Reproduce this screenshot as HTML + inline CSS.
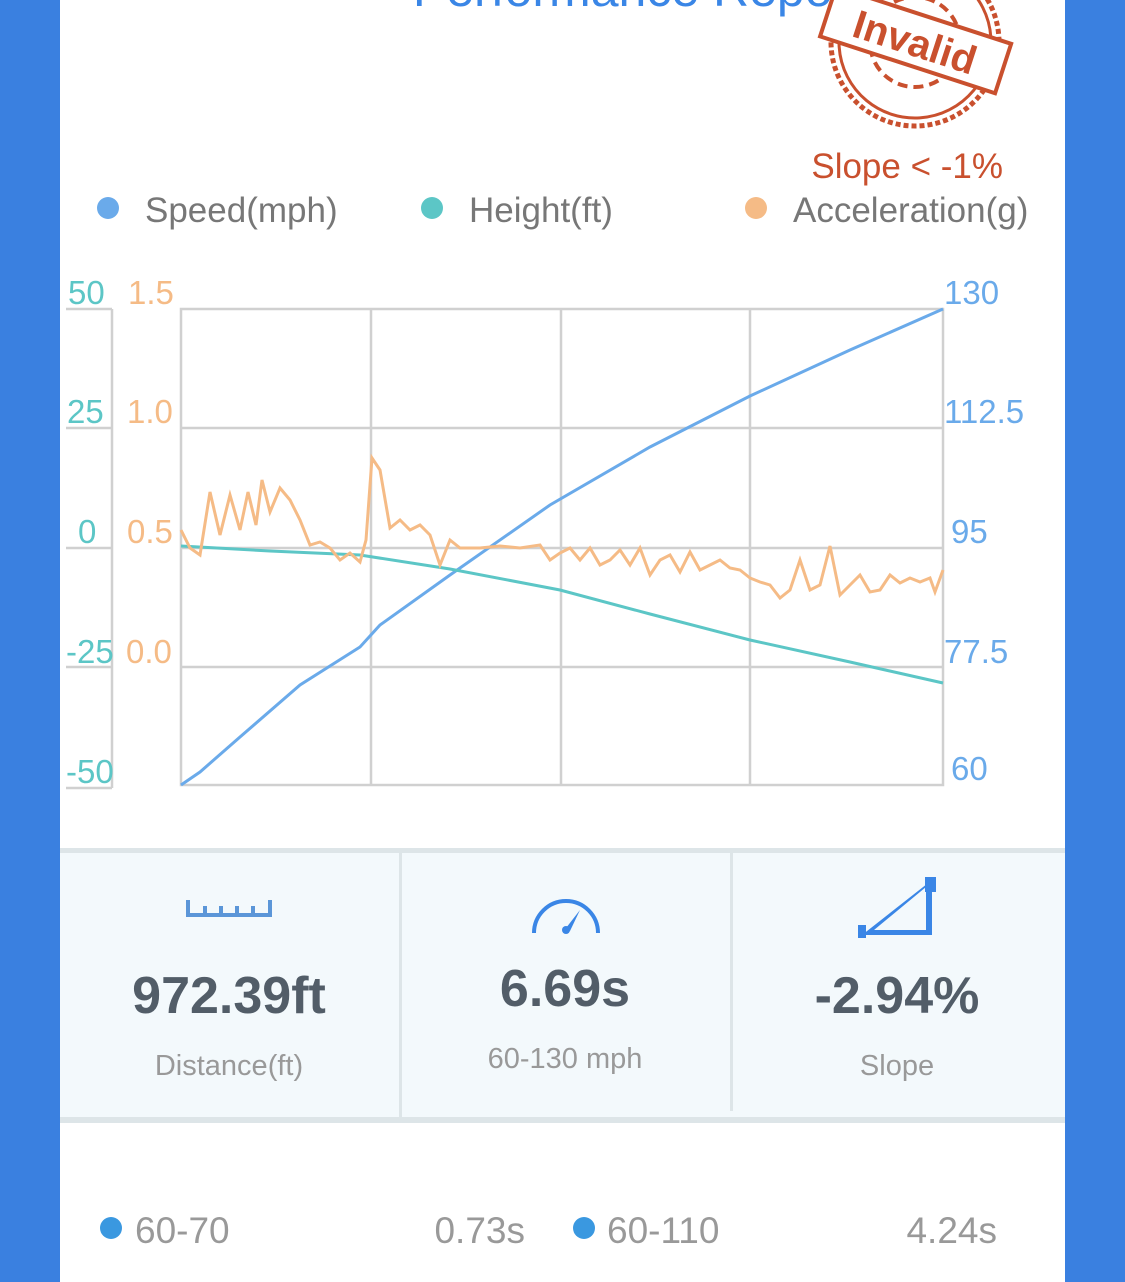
<!DOCTYPE html>
<html><head><meta charset="utf-8"><style>
body{margin:0;width:1125px;height:1282px;overflow:hidden;background:#3a80e0;font-family:"Liberation Sans",sans-serif;}
.page{position:absolute;left:60px;top:0;width:1005px;height:1282px;background:#fff;}
</style></head><body>
<div class="page"></div>
<svg width="1125" height="1282" style="position:absolute;left:0;top:0" font-family="Liberation Sans, sans-serif">
<text x="638" y="6" font-size="50" fill="#3a86e6" text-anchor="middle">Performance Report</text>
<g transform="translate(915,42) rotate(18)" fill="none" stroke="#c9502e">
<circle r="84" fill="#fff" stroke-width="5" stroke-dasharray="5 3"/>
<circle r="76" stroke-width="3"/>
<circle r="45" stroke-width="4" stroke-dasharray="10 6"/>
<rect x="-92" y="-28" width="184" height="52" fill="#fff" stroke-width="4"/>
<text x="0" y="14" font-size="40" font-weight="bold" fill="#c9502e" stroke="none" text-anchor="middle">Invalid</text>
</g>
<text x="1003" y="178" font-size="35" fill="#c9502e" text-anchor="end">Slope &lt; -1%</text>
<circle cx="108" cy="208" r="11" fill="#6aaaea"/><text x="145" y="222" font-size="35" fill="#777">Speed(mph)</text>
<circle cx="432" cy="208" r="11" fill="#5cc6c6"/><text x="469" y="222" font-size="35" fill="#777">Height(ft)</text>
<circle cx="756" cy="208" r="11" fill="#f5bb86"/><text x="793" y="222" font-size="35" fill="#777">Acceleration(g)</text>
<g stroke="#d0d0d0" stroke-width="2.5" fill="none">
<rect x="181" y="309" width="762" height="476"/>
<path d="M371 309V785M561 309V785M750 309V785M181 428H943M181 548H943M181 667H943"/>
<path d="M112 309V788M66 309H112M66 428H112M66 548H112M66 667H112M66 788H112"/>
</g>
<g font-size="33" fill="#5cc6c6"><text x="68" y="304">50</text><text x="67" y="423">25</text><text x="78" y="543">0</text><text x="66" y="663">-25</text><text x="66" y="783">-50</text></g>
<g font-size="33" fill="#f5bb86"><text x="128" y="304">1.5</text><text x="127" y="423">1.0</text><text x="127" y="543">0.5</text><text x="126" y="663">0.0</text></g>
<g font-size="33" fill="#6aaaea"><text x="944" y="304">130</text><text x="944" y="423">112.5</text><text x="951" y="543">95</text><text x="944" y="663">77.5</text><text x="951" y="780">60</text></g>
<polyline fill="none" stroke="#6aaaea" stroke-width="3" points="181,785 200,772 240,737 300,685 360,647 380,625 450,575 550,505 650,447 750,396 850,350 943,309"/>
<polyline fill="none" stroke="#5cc6c6" stroke-width="3" points="181,546 270,551 360,555 450,569 560,590 650,614 750,640 850,662 943,683"/>
<polyline fill="none" stroke="#f5bb86" stroke-width="3" points="181,530 190,548 200,555 210,492 220,535 230,495 240,530 248,492 256,525 262,480 270,512 280,488 290,500 300,520 310,545 320,542 330,548 340,560 350,553 360,562 366,540 372,458 380,470 390,528 400,520 410,530 420,525 430,535 440,565 450,540 460,548 480,548 500,546 520,548 540,545 550,560 560,553 570,548 580,560 590,548 600,565 610,560 620,550 630,565 640,548 650,575 660,560 670,555 680,572 690,552 700,570 710,565 720,560 730,568 740,570 750,578 760,582 770,585 780,598 790,590 800,560 810,590 820,585 830,546 840,595 850,585 860,575 870,592 880,590 890,575 900,583 910,578 920,582 930,578 935,592 943,570"/>
<rect x="60" y="848" width="1005" height="5" fill="#dde5e8"/>
<rect x="60" y="853" width="1005" height="264" fill="#f3f9fc"/>
<rect x="60" y="1117" width="1005" height="6" fill="#dde5e8"/>
<rect x="399" y="853" width="3" height="264" fill="#dde5e8"/>
<rect x="730" y="853" width="3" height="258" fill="#dde5e8"/>
<path d="M188 900V915H270V900M205 906V915M221 906V915M237 906V915M253 906V915" stroke="#5b96d8" stroke-width="4" fill="none"/>
<path d="M534 933A32 32 0 1 1 598 933" stroke="#3a86e6" stroke-width="4" fill="none"/>
<path d="M566 928L580 910L570 931Z" fill="#3a86e6"/><circle cx="566" cy="930" r="4" fill="#3a86e6"/>
<path d="M862 935L932 880V935Z M874 930H926V887Z" fill="#3a86e6" fill-rule="evenodd"/>
<rect x="858" y="925" width="8" height="13" fill="#3a86e6"/><rect x="925" y="877" width="11" height="15" fill="#3a86e6"/>
<g font-weight="bold" fill="#525d68" text-anchor="middle" font-size="52"><text x="229" y="1013">972.39ft</text><text x="565" y="1006">6.69s</text><text x="897" y="1013">-2.94%</text></g>
<g fill="#999" text-anchor="middle" font-size="29"><text x="229" y="1075">Distance(ft)</text><text x="565" y="1068">60-130 mph</text><text x="897" y="1075">Slope</text></g>
<circle cx="111" cy="1228" r="11" fill="#3a98e0"/><text x="135" y="1243" font-size="37" fill="#999">60-70</text>
<text x="525" y="1243" font-size="37" fill="#999" text-anchor="end">0.73s</text>
<circle cx="584" cy="1228" r="11" fill="#3a98e0"/><text x="607" y="1243" font-size="37" fill="#999">60-110</text>
<text x="997" y="1243" font-size="37" fill="#999" text-anchor="end">4.24s</text>
</svg>
</body></html>
